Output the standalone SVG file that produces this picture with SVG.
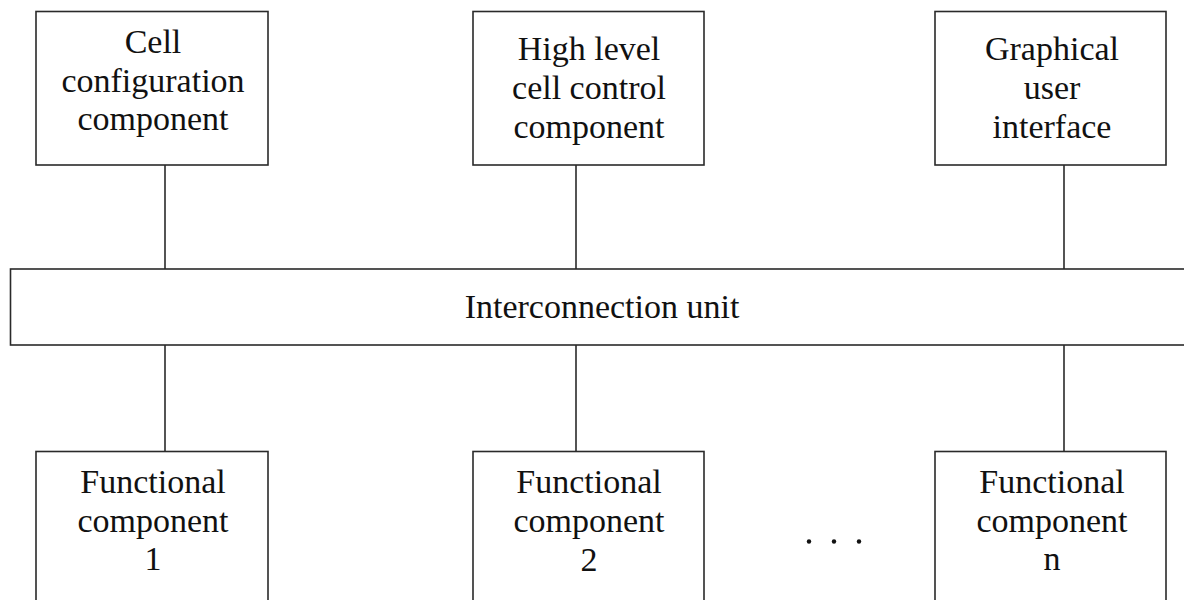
<svg xmlns="http://www.w3.org/2000/svg" width="1184" height="600" viewBox="0 0 1184 600">
  <style>
    .box { fill: #ffffff; stroke: #2a2a2a; stroke-width: 1.6; }
    .wire { stroke: #2a2a2a; stroke-width: 1.6; fill: none; }
    .label { font-family: "Liberation Serif", "Times New Roman", serif; font-size: 34px; fill: #111111; text-anchor: middle; }
    .dot { fill: #111111; }
  </style>
  <rect width="1184" height="600" fill="#ffffff"/>

  <!-- connectors between the components and the interconnection unit -->
  <g id="connectors">
    <line class="wire" x1="165" y1="165" x2="165" y2="269"/>
    <line class="wire" x1="576" y1="165" x2="576" y2="269"/>
    <line class="wire" x1="1064" y1="165" x2="1064" y2="269"/>
    <line class="wire" x1="165" y1="345" x2="165" y2="451"/>
    <line class="wire" x1="576" y1="345" x2="576" y2="451"/>
    <line class="wire" x1="1064" y1="345" x2="1064" y2="451"/>
  </g>

  <g id="cell-config">
    <rect class="box" x="36" y="11.5" width="232" height="153.5"/>
    <text class="label" x="153" y="53">Cell</text>
    <text class="label" x="153" y="91.5">configuration</text>
    <text class="label" x="153" y="130">component</text>
  </g>

  <g id="high-level-control">
    <rect class="box" x="473" y="11.5" width="231" height="153.5"/>
    <text class="label" x="589" y="60">High level</text>
    <text class="label" x="589" y="99">cell control</text>
    <text class="label" x="589" y="137.5">component</text>
  </g>

  <g id="gui">
    <rect class="box" x="935" y="11.5" width="231" height="153.5"/>
    <text class="label" x="1052" y="60">Graphical</text>
    <text class="label" x="1052" y="99">user</text>
    <text class="label" x="1052" y="138">interface</text>
  </g>

  <g id="interconnection-unit">
    <rect class="box" x="10.5" y="269" width="1190" height="76"/>
    <text class="label" x="602" y="318">Interconnection unit</text>
  </g>

  <g id="functional-1">
    <rect class="box" x="36" y="451.5" width="232" height="170"/>
    <text class="label" x="153" y="493">Functional</text>
    <text class="label" x="153" y="531.5">component</text>
    <text class="label" x="153" y="570">1</text>
  </g>

  <g id="functional-2">
    <rect class="box" x="473" y="451.5" width="231" height="170"/>
    <text class="label" x="589" y="493">Functional</text>
    <text class="label" x="589" y="531.5">component</text>
    <text class="label" x="589" y="570.5">2</text>
  </g>

  <g id="ellipsis">
    <circle class="dot" cx="809" cy="541.5" r="2.2"/>
    <circle class="dot" cx="834" cy="541.5" r="2.2"/>
    <circle class="dot" cx="859" cy="541.5" r="2.2"/>
  </g>

  <g id="functional-n">
    <rect class="box" x="935" y="451.5" width="231" height="170"/>
    <text class="label" x="1052" y="493">Functional</text>
    <text class="label" x="1052" y="531.5">component</text>
    <text class="label" x="1052" y="570">n</text>
  </g>
</svg>
